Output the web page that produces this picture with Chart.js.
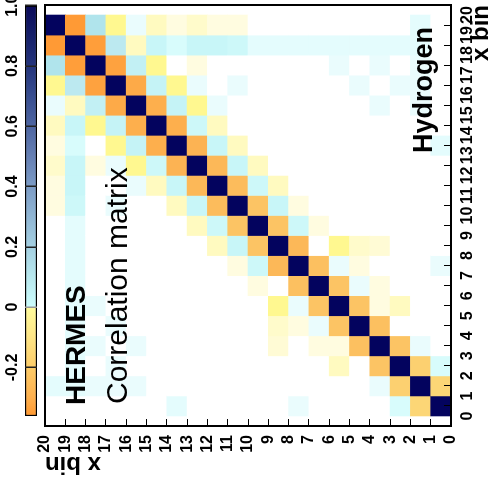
<!DOCTYPE html>
<html><head><meta charset="utf-8">
<script src="https://cdn.jsdelivr.net/npm/chart.js@4.4.1/dist/chart.umd.min.js"></script>
<style>
html,body{margin:0;padding:0;background:#fff;overflow:hidden;width:493px;height:497px;}
#rot{position:absolute;left:0;top:0;width:497px;height:493px;transform-origin:0 0;transform:translate(0px,497px) rotate(-90deg);background:#fff;}
#main,#cbar{position:absolute;left:0;top:0;}
.lbl{position:absolute;white-space:nowrap;font-family:"Liberation Sans",Arial,sans-serif;color:#000;line-height:1;}
</style></head><body>
<div id="rot">
<canvas id="main" width="497" height="493"></canvas>
<canvas id="cbar" width="497" height="40"></canvas>
<div class="lbl" style="left:92px;top:62px;font-size:28px;font-weight:bold">HERMES</div>
<div class="lbl" style="left:93px;top:102px;font-size:30px;">Correlation matrix</div>
<div class="lbl" style="left:344px;top:410px;font-size:27px;font-weight:bold">Hydrogen</div>
</div>
<script>
// ---- data ----
const xBins = [0,1,2,3,4,5,6,7,8,9,10,11,12,13,14,15,16,17,18,19];
const yBins = [0,1,2,3,4,5,6,7,8,9,10,11,12,13,14,15,16,17,18,19];
const binEdges = [0,1,2,3,4,5,6,7,8,9,10,11,12,13,14,15,16,17,18,19,20];
// corr[xBin][yBin]
const corr = [
 [1,-0.21,0.05,0,0,0,0,0.02,0,0,0,0,0,0.03,0,0,0,0,0,0],
 [-0.21,1,-0.24,0.02,0,0,0,0,0,0,0,0,0,0,0,0.02,0.02,0.02,0.03,0.03],
 [0.05,-0.24,1,-0.27,0,-0.06,0,0,0,0,0,0,0,0,0,0,0.02,0,0.03,0],
 [0,0.02,-0.27,1,-0.28,-0.03,-0.03,0,-0.04,0,0,0,0,0,0,0.02,0,0.02,0.03,0],
 [0,0,0,-0.28,1,-0.27,0.02,-0.03,-0.05,0,0,0,0,0,0,0,0.02,0,0.03,0],
 [0,0,-0.06,-0.03,-0.27,1,-0.27,0.02,-0.1,0,0,0,0,0,0,0,0,0.02,0.03,0],
 [0,0,0,-0.03,0.02,-0.27,1,-0.28,0,-0.03,0,0,0,0,0,0,0,0,0.03,0],
 [0.02,0,0,0,-0.03,0.02,-0.28,1,-0.3,0.07,-0.03,0,0,0,0,0,0,0,0.03,0],
 [0,0,0,-0.04,-0.05,-0.1,0,-0.3,1,-0.27,0.08,-0.06,0,0,0,0,0,0,0.03,0],
 [0,0,0,0,0,0,-0.03,0.07,-0.27,1,-0.27,0.07,-0.06,0,0,0,0,0,0.03,0],
 [0,0,0,0,0,0,0,-0.03,0.08,-0.27,1,-0.29,0.08,-0.06,0,0,0.02,0,0.07,-0.03],
 [0,0,0,0,0,0,0,0,-0.06,0.07,-0.29,1,-0.3,0.08,-0.06,0.02,0,0,0.08,-0.03],
 [0,0,0,0,0,0,0,0,0,-0.06,0.08,-0.3,1,-0.31,0.07,-0.1,0.02,-0.03,0.08,-0.05],
 [0.03,0,0,0,0,0,0,0,0,0,-0.06,0.08,-0.31,1,-0.32,0.09,-0.1,0,0.05,-0.03],
 [0,0,0,0,0,0,0,0,0,0,0,-0.06,0.07,-0.32,1,-0.32,0.09,-0.1,0.08,-0.06],
 [0,0.02,0,0.02,0,0,0,0,0,0,0,0.02,-0.1,0.09,-0.32,1,-0.33,0.1,-0.06,0.02],
 [0,0.02,0.02,0,0.02,0,0,0,0,0,0.02,0,0.02,-0.1,0.09,-0.33,1,-0.35,0.12,-0.1],
 [0,0.02,0,0.02,0,0.02,0,0,0,0,0,0,-0.03,0,-0.1,0.1,-0.35,1,-0.36,0.15],
 [0,0.03,0.03,0.03,0.03,0.03,0.03,0.03,0.03,0.03,0.07,0.08,0.08,0.05,0.08,-0.06,0.12,-0.36,1,-0.37],
 [0,0.03,0,0,0,0,0,0,0,0,-0.03,-0.03,-0.05,-0.03,-0.06,0.02,-0.1,0.15,-0.37,1]
];
const colorbarRange = [-0.361, 1];
const colorbarTicks = [-0.2, 0, 0.2, 0.4, 0.6, 0.8, 1];
const cellStops = [
 [-0.37,'#ff9a35'],[-0.33,'#fdaa48'],[-0.3,'#fcb858'],[-0.27,'#fcc464'],[-0.24,'#fcd070'],
 [-0.2,'#fcd878'],[-0.1,'#fff890'],[-0.06,'#fffac0'],[-0.03,'#fffce0'],[0,'#ffffff'],
 [0.02,'#eafcfd'],[0.05,'#d8fcfc'],[0.08,'#c8f6f8'],[0.12,'#bce9f0'],[0.15,'#b0e4ec'],
 [0.4,'#7e9cc4'],[0.8,'#24347c'],[1,'#03035e']
];
const barStops = [
 [-0.361,'#ff9830'],[-0.3,'#feb04e'],[-0.2,'#fdcc68'],[-0.1,'#fee586'],[0,'#fffb9c'],
 [0,'#ccfdfd'],[0.1,'#b8e8ee'],[0.2,'#a4d0e2'],[0.3,'#90b6d4'],[0.4,'#7c9cc6'],
 [0.5,'#6680b4'],[0.6,'#4e66a2'],[0.7,'#384e90'],[0.8,'#24347c'],[0.9,'#16206a'],[1,'#0a0a5a']
];

// ---- helpers ----
const FONT = '"Liberation Sans", Arial, sans-serif';
function hex2rgb(h){return [parseInt(h.substr(1,2),16),parseInt(h.substr(3,2),16),parseInt(h.substr(5,2),16)];}
function cellColor(v){
  if (v <= cellStops[0][0]) return cellStops[0][1];
  for (let k=1;k<cellStops.length;k++){
    const [v1,c1] = cellStops[k];
    if (v <= v1){
      const [v0,c0] = cellStops[k-1];
      const t = (v - v0)/(v1 - v0);
      const a = hex2rgb(c0), b = hex2rgb(c1);
      return 'rgb(' + a.map((x,n)=>Math.round(x + (b[n]-x)*t)).join(',') + ')';
    }
  }
  return cellStops[cellStops.length-1][1];
}
const edgeTicks = s => { s.ticks = binEdges.map(v => ({value: v})); };
const tickFont = {family: FONT, size: 16, weight: 'bold', lineHeight: 1.2};
const titleFont = {family: FONT, size: 24, weight: 'bold', lineHeight: 1};

// ---- matrix chart ----
const datasets = yBins.map(j => ({
  data: xBins.map(i => ({x: i + 0.5, y: [j, j + 1]})),
  backgroundColor: xBins.map(i => cellColor(corr[i][j])),
  borderWidth: 0,
  grouped: false,
  barPercentage: 1,
  categoryPercentage: 1
}));

new Chart(document.getElementById('main'), {
  type: 'bar',
  data: {datasets},
  options: {
    responsive: false, animation: false,
    layout: {padding: {top: 45, right: 5, left: 0, bottom: 0}},
    plugins: {legend: {display: false}, tooltip: {enabled: false}},
    scales: {
      x: {
        type: 'linear', position: 'bottom', min: 0, max: 20, bounds: 'data',
        afterBuildTicks: edgeTicks,
        ticks: {autoSkip: false, maxRotation: 0, minRotation: 0, padding: 14.4, color: '#000', font: tickFont},
        grid: {drawOnChartArea: false, drawTicks: true, tickLength: -7, tickWidth: 1, tickColor: '#000', z: 1},
        border: {display: true, color: '#000', width: 2, z: 1},
        title: {display: true, text: 'x bin', align: 'end', color: '#000', font: titleFont, padding: {top: 0, bottom: 0}},
        afterFit: s => { s.height = 42; s.paddingLeft = 0; s.paddingRight = 0; }
      },
      y: {
        type: 'linear', position: 'left', min: 0, max: 20, bounds: 'data',
        afterBuildTicks: edgeTicks,
        ticks: {autoSkip: false, padding: 16, color: '#000', font: tickFont},
        grid: {drawOnChartArea: false, drawTicks: true, tickLength: -7, tickWidth: 1, tickColor: '#000', z: 1},
        border: {display: true, color: '#000', width: 2, z: 1},
        title: {display: true, text: 'x bin', align: 'end', color: '#000', font: titleFont, padding: {top: 21.7, bottom: 0}},
        afterFit: s => { s.width = 71; s.paddingTop = 0; s.paddingBottom = 0; }
      },
      x2: {
        type: 'linear', position: 'top', min: 0, max: 20,
        ticks: {display: false},
        grid: {drawOnChartArea: false, drawTicks: false},
        border: {display: true, color: '#000', width: 2, z: 1},
        afterFit: s => { s.height = 0; s.paddingLeft = 0; s.paddingRight = 0; }
      },
      y2: {
        type: 'linear', position: 'right', min: 0, max: 20,
        ticks: {display: false},
        grid: {drawOnChartArea: false, drawTicks: false},
        border: {display: true, color: '#000', width: 2, z: 1},
        afterFit: s => { s.width = 0; s.paddingTop = 0; s.paddingBottom = 0; }
      }
    }
  }
});

// ---- colour bar ----
function barGradient(c){
  const ch = c.chart;
  if (!ch.chartArea) return '#fff';
  const xs = ch.scales.x;
  const x0 = xs.getPixelForValue(colorbarRange[0]), x1 = xs.getPixelForValue(colorbarRange[1]);
  const g = ch.ctx.createLinearGradient(x0, 0, x1, 0);
  barStops.forEach(([v, col]) => g.addColorStop((v - colorbarRange[0]) / (colorbarRange[1] - colorbarRange[0]), col));
  return g;
}
new Chart(document.getElementById('cbar'), {
  type: 'bar',
  data: {labels: ['scale'], datasets: [{
    data: [colorbarRange], backgroundColor: barGradient, borderColor: '#000', borderWidth: 1.5,
    borderSkipped: false, barPercentage: 1, categoryPercentage: 1
  }]},
  options: {
    indexAxis: 'y', responsive: false, animation: false,
    layout: {padding: {left: 81, right: 5.7, top: 0, bottom: 3}},
    plugins: {legend: {display: false}, tooltip: {enabled: false}},
    scales: {
      x: {
        type: 'linear', position: 'top', min: colorbarRange[0], max: colorbarRange[1], bounds: 'data',
        afterBuildTicks: s => { s.ticks = colorbarTicks.map(v => ({value: v})); },
        ticks: {autoSkip: false, maxRotation: 0, minRotation: 0, padding: 2.9, color: '#000', font: tickFont},
        grid: {drawOnChartArea: true, drawTicks: false, lineWidth: 1.5,
               color: c => (c.tick && c.tick.value === 0) ? '#999' : '#222', z: 1},
        border: {display: false},
        afterFit: s => { s.height = 25; s.paddingLeft = 0; s.paddingRight = 0; }
      },
      y: {display: false}
    }
  }
});
</script>
</body></html>
